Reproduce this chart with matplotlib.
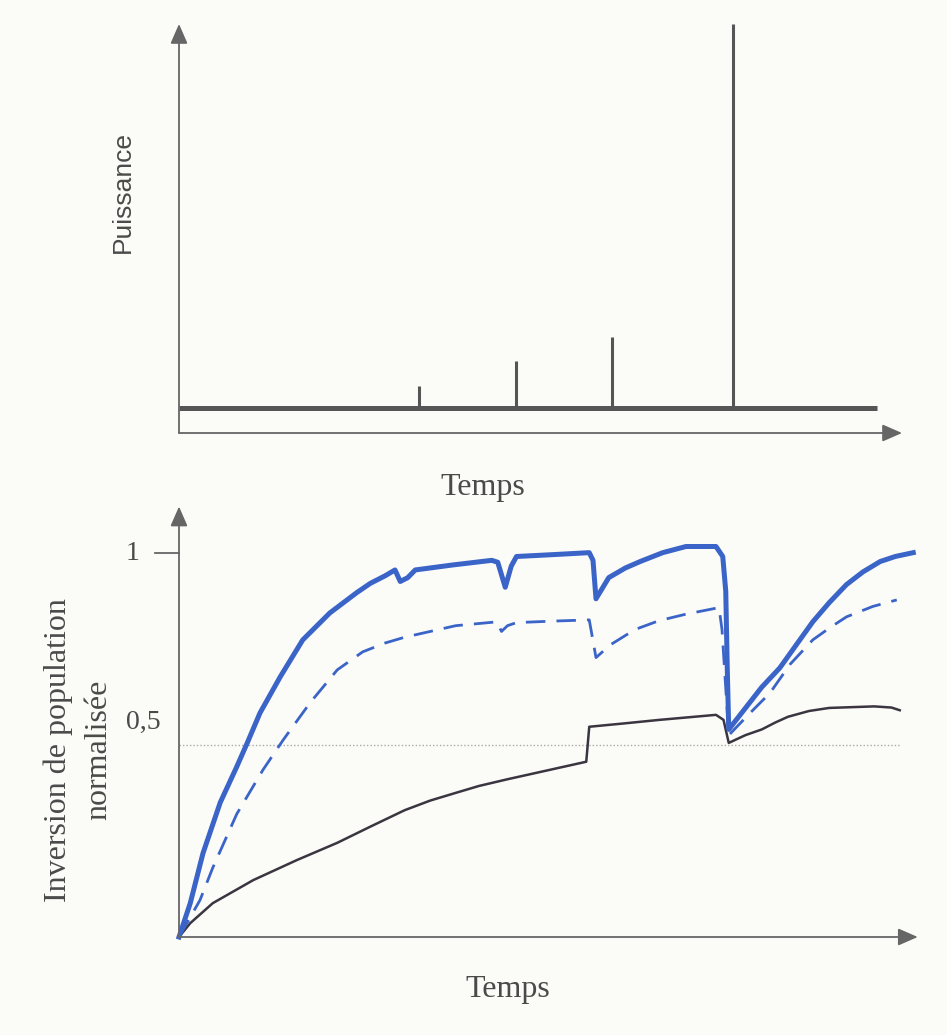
import matplotlib
matplotlib.use("Agg")
import matplotlib.pyplot as plt

plt.rcParams['font.family'] = ['Liberation Serif', 'DejaVu Serif']

# --- haut : impulsions de puissance ---
niveau_base = 0.061
fin_base = 93.1
impulsions_t = [32.0, 44.9, 57.7, 73.9]
impulsions_p = [0.115, 0.176, 0.235, 1.0]

# --- bas : inversion de population normalisée ---
t_plein = [0, 1.5, 3.2, 5.5, 7.7, 9.1, 10.8, 13.5, 16.5, 20.1, 23.7, 25.5, 27.5,
           28.8, 29.5, 30.5, 31.5, 36.5, 41.7, 42.5, 43.5, 44.3, 45.0, 50.0, 54.7,
           55.2, 55.6, 57.3, 59.5, 61.5, 64.5, 67.6, 71.6, 72.5, 72.9, 73.1, 73.3,
           75.5, 77.7, 80.1, 82.3, 84.5, 86.7, 89.0, 91.2, 93.5, 95.5, 97.9]
v_plein = [0, 0.088, 0.218, 0.35, 0.443, 0.505, 0.583, 0.677, 0.773, 0.843, 0.896, 0.92, 0.94,
           0.955, 0.925, 0.935, 0.955, 0.968, 0.98, 0.975, 0.91, 0.965, 0.99, 0.995, 1.0,
           0.98, 0.88, 0.935, 0.96, 0.977, 1.0, 1.016, 1.016, 0.99, 0.90, 0.70, 0.54,
           0.595, 0.65, 0.70, 0.76, 0.82, 0.87, 0.917, 0.95, 0.977, 0.99, 1.0]

t_tirets = [0, 2.8, 4.5, 7.7, 11.2, 13.9, 17.5, 21.1, 24.5, 27.5, 30.1, 33.5, 36.9, 42.4,
            43.0, 43.8, 45.0, 50.0, 54.7, 55.6, 57.5, 60.8, 64.0, 67.6, 72.0, 72.4, 73.3,
            76.0, 78.8, 81.5, 84.5, 86.8, 89.0, 92.5, 95.7]
v_tirets = [0, 0.096, 0.18, 0.32, 0.435, 0.513, 0.61, 0.695, 0.742, 0.765, 0.78, 0.795, 0.81, 0.82,
            0.795, 0.81, 0.818, 0.822, 0.825, 0.727, 0.76, 0.80, 0.823, 0.84, 0.857, 0.80, 0.525,
            0.58, 0.635, 0.71, 0.773, 0.805, 0.833, 0.86, 0.877]

t_noir = [0, 1.5, 4.5, 9.9, 15.7, 21.1, 25.5, 30.1, 33.5, 36.9, 40.0, 43.7, 49.0, 54.3,
          54.7, 59.5, 64.1, 71.6, 72.6, 73.3, 75.5, 77.7, 79.5, 81.2, 84.0, 86.7, 92.7,
          95.0, 96.1]
v_noir = [0, 0.036, 0.088, 0.148, 0.20, 0.245, 0.287, 0.33, 0.355, 0.375, 0.393, 0.41, 0.433, 0.456,
          0.547, 0.556, 0.565, 0.578, 0.565, 0.505, 0.525, 0.54, 0.558, 0.573, 0.588, 0.596, 0.60,
          0.597, 0.59]

W, H = 947, 1035
fond = '#fbfbf7'
gris_axe = '#666666'
gris_txt = '#4a4a4a'
bleu = '#3a64c8'

fig = plt.figure(figsize=(W / 100, H / 100), dpi=100, facecolor=fond)

def rect(gauche, droite, bas, haut):
    return [gauche / W, 1 - bas / H, (droite - gauche) / W, (bas - haut) / H]

fleche = dict(arrowstyle='-|>,head_length=0.8,head_width=0.35', color=gris_axe,
              lw=1.3, mutation_scale=15, shrinkA=0, shrinkB=0)

# panneau du haut
ax1 = fig.add_axes(rect(179, 929, 433, 15))
ax1.set_xlim(0, 100)
ax1.set_ylim(0, 1.022)
ax1.axis('off')
ax1.annotate('', xy=(0, 1.0), xytext=(0, 0), arrowprops=fleche, annotation_clip=False)
ax1.annotate('', xy=(96.4, 0), xytext=(0, 0), arrowprops=fleche, annotation_clip=False)
ax1.plot([0, fin_base], [niveau_base, niveau_base], color='#555555', lw=3.6,
         solid_capstyle='butt')
ax1.vlines(impulsions_t, niveau_base, impulsions_p, color='#555555', lw=2.2)
fig.text(123 / W, 1 - 192 / H, 'Puissance', rotation=90, ha='center', va='center',
         fontsize=19, color=gris_txt, family=['Liberation Sans'])
fig.text(483 / W, 1 - 487 / H, 'Temps', ha='center', va='center', fontsize=23, color=gris_txt)

# panneau du bas
ax2 = fig.add_axes(rect(179, 929, 937, 495))
ax2.set_xlim(0, 100)
ax2.set_ylim(0, 1.15)
ax2.axis('off')
ax2.annotate('', xy=(0, 1.12), xytext=(0, 0), arrowprops=fleche, annotation_clip=False)
ax2.annotate('', xy=(98.5, 0), xytext=(0, 0), arrowprops=fleche, annotation_clip=False)
ax2.plot([-3.2, 0], [1, 1], color=gris_axe, lw=1.3, clip_on=False)
ax2.plot([0, 96.1], [0.5, 0.5], color='#aaaaaa', lw=1.0, ls=(0, (1, 1.5)))

ax2.plot(t_noir, v_noir, color='#3a3540', lw=1.8, clip_on=False)
ax2.plot(t_tirets, v_tirets, color=bleu, lw=2.0, ls=(0, (7, 4)), clip_on=False)
ax2.plot(t_plein, v_plein, color=bleu, lw=3.6, clip_on=False, solid_joinstyle='round')

fig.text(139 / W, 1 - 553 / H, '1', ha='right', va='center', fontsize=20, color=gris_txt)
fig.text(161 / W, 1 - 722 / H, '0,5', ha='right', va='center', fontsize=20, color=gris_txt)
fig.text(58 / W, 1 - 750 / H, 'Inversion de population', rotation=90, ha='center',
         va='center', fontsize=23, color=gris_txt)
fig.text(99 / W, 1 - 750 / H, 'normalisée', rotation=90, ha='center', va='center',
         fontsize=23, color=gris_txt)
fig.text(508 / W, 1 - 990 / H, 'Temps', ha='center', va='center', fontsize=23, color=gris_txt)

plt.savefig('out.png', dpi=100, facecolor=fond)
